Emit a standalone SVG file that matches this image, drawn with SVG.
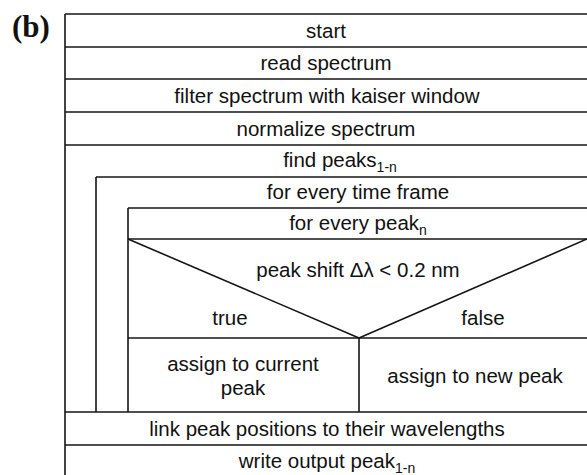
<svg xmlns="http://www.w3.org/2000/svg" width="587" height="475" viewBox="0 0 587 475">
<style>
.ln{stroke:#141414;stroke-width:1.6;fill:none}
.t{font-family:"Liberation Sans",Arial,sans-serif;font-size:20.5px;fill:#111;text-anchor:middle}
.sub{font-size:14px}
.lbl{font-family:"Liberation Serif","Times New Roman",serif;font-weight:bold;font-size:31px;fill:#111}
</style>
<rect width="587" height="475" fill="#fff"/>
<text class="lbl" x="12" y="37">(b)</text>
<g id="connectors">
<line class="ln" x1="65" y1="14" x2="587" y2="14"/>
<line class="ln" x1="65" y1="14" x2="65" y2="475"/>
</g>
<g id="start"><line class="ln" x1="65" y1="47" x2="587" y2="47"/><text class="t" x="326" y="38">start</text></g>
<g id="read"><line class="ln" x1="65" y1="79" x2="587" y2="79"/><text class="t" x="326" y="70">read spectrum</text></g>
<g id="filter"><line class="ln" x1="65" y1="112" x2="587" y2="112"/><text class="t" x="327" y="103">filter spectrum with kaiser window</text></g>
<g id="normalize"><line class="ln" x1="65" y1="145" x2="587" y2="145"/><text class="t" x="326" y="136">normalize spectrum</text></g>
<g id="findpeaks"><line class="ln" x1="96" y1="177" x2="587" y2="177"/><text class="t" x="340" y="167">find peaks<tspan class="sub" dy="5">1-n</tspan></text></g>
<g id="timeframe"><line class="ln" x1="96" y1="177" x2="96" y2="412"/><line class="ln" x1="128" y1="208" x2="587" y2="208"/><text class="t" x="358" y="199">for every time frame</text></g>
<g id="everypeak"><line class="ln" x1="128" y1="208" x2="128" y2="412"/><line class="ln" x1="128" y1="239" x2="587" y2="239"/><text class="t" x="358" y="230">for every peak<tspan class="sub" dy="5">n</tspan></text></g>
<g id="decision">
<line class="ln" x1="128" y1="239" x2="359" y2="338"/>
<line class="ln" x1="359" y1="338" x2="587" y2="239"/>
<line class="ln" x1="128" y1="338" x2="587" y2="338"/>
<text class="t" x="358" y="277">peak shift Δλ &lt; 0.2 nm</text>
<text class="t" x="230" y="325">true</text>
<text class="t" x="483" y="325">false</text>
</g>
<g id="current"><line class="ln" x1="359" y1="338" x2="359" y2="412"/><text class="t" x="243" y="371">assign to current</text><text class="t" x="243" y="395">peak</text></g>
<g id="newpeak"><text class="t" x="475" y="383">assign to new peak</text></g>
<g id="link"><line class="ln" x1="65" y1="412" x2="587" y2="412"/><line class="ln" x1="65" y1="445" x2="587" y2="445"/><text class="t" x="327" y="436">link peak positions to their wavelengths</text></g>
<g id="write"><text class="t" x="327" y="468">write output peak<tspan class="sub" dy="5">1-n</tspan></text></g>
</svg>
